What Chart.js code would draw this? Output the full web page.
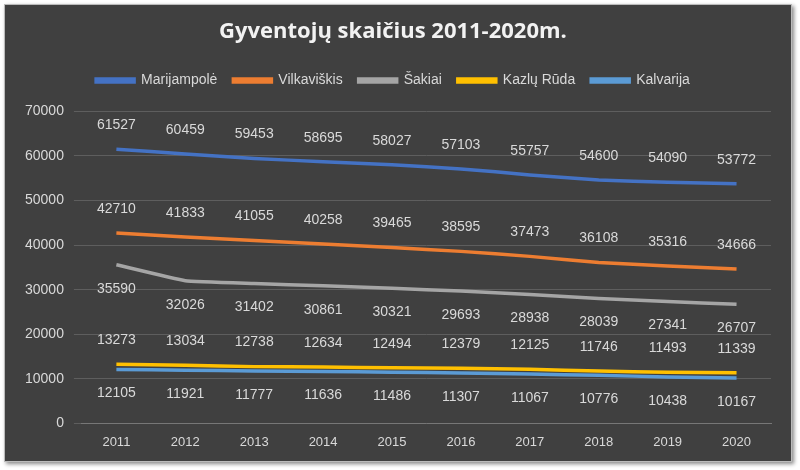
<!DOCTYPE html>
<html><head><meta charset="utf-8">
<script src="https://cdn.jsdelivr.net/npm/chart.js@4"></script>
<style>
html,body{margin:0;padding:0;background:#fff;}
#wrap{position:absolute;left:4px;top:4px;width:786px;height:456px;background:#404040;border:1px solid #bbb;box-shadow:2px 2px 4px #888;}
</style></head><body>
<div id="wrap"><canvas id="chart" width="786" height="456"></canvas></div>
<script>
const years = ["2011","2012","2013","2014","2015","2016","2017","2018","2019","2020"];
const marijampole = [61527,60459,59453,58695,58027,57103,55757,54600,54090,53772];
const vilkaviskis = [42710,41833,41055,40258,39465,38595,37473,36108,35316,34666];
const sakiai = [35590,32026,31402,30861,30321,29693,28938,28039,27341,26707];
const kazluRuda = [13273,13034,12738,12634,12494,12379,12125,11746,11493,11339];
const kalvarija = [12105,11921,11777,11636,11486,11307,11067,10776,10438,10167];

const mk = (label, data, color, pos) => ({
  label, data, borderColor: color, backgroundColor: color,
  borderWidth: 3.5, pointRadius: 0, tension: 0.1, labelPos: pos
});

const labelPlugin = {
  id: "vals",
  afterDatasetsDraw(chart) {
    const ctx = chart.ctx;
    ctx.save();
    ctx.font = "14px 'Liberation Sans', Arial";
    ctx.fillStyle = "#d9d9d9";
    ctx.textAlign = "center";
    ctx.textBaseline = "middle";
    chart.data.datasets.forEach((ds, i) => {
      chart.getDatasetMeta(i).data.forEach((pt, j) => {
        const off = ds.labelPos === "above" ? -24 : 24;
        ctx.fillText(ds.data[j], pt.x, pt.y + off);
      });
    });
    ctx.restore();
  }
};

const legendGap = { id: "legendGap", beforeInit(chart) {
  const fit = chart.legend.fit;
  chart.legend.fit = function () { fit.bind(chart.legend)(); this.height += 14; };
} };

new Chart(document.getElementById("chart"), {
  type: "line",
  data: {
    labels: years,
    datasets: [
      mk("Marijampolė", marijampole, "#4472C4", "above"),
      mk("Vilkaviškis", vilkaviskis, "#ED7D31", "above"),
      mk("Šakiai", sakiai, "#A5A5A5", "below"),
      mk("Kazlų Rūda", kazluRuda, "#FFC000", "above"),
      mk("Kalvarija", kalvarija, "#5B9BD5", "below")
    ]
  },
  options: {
    responsive: false,
    animation: false,
    layout: { padding: { left: 10, right: 20, bottom: 8, top: 4 } },
    plugins: {
      title: { display: true, text: "Gyventojų skaičius 2011-2020m.", color: "#f2f2f2",
        font: { size: 22, weight: "bold", family: "'Open Sans', Arial" }, padding: { top: 10, bottom: 12 } },
      legend: { labels: { color: "#d9d9d9", font: { size: 14 }, boxWidth: 38, boxHeight: 3, padding: 16 } },
      tooltip: { enabled: false }
    },
    scales: {
      x: { offset: true, grid: { display: false }, border: { color: "#777" },
        ticks: { color: "#d9d9d9", font: { size: 13 } } },
      y: { min: 0, max: 70000,
        ticks: { stepSize: 10000, color: "#d9d9d9", font: { size: 14 }, padding: 10, callback: v => String(v) },
        grid: { color: "#5e5e5e" }, border: { display: false } }
    }
  },
  plugins: [labelPlugin, legendGap]
});
</script>
</body></html>
